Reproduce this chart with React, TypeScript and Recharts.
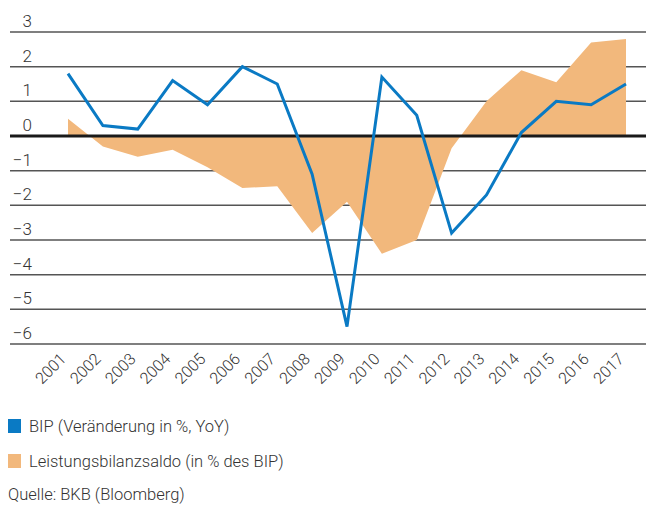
import React from 'react';
import { ComposedChart, Area, Line, XAxis, YAxis, CartesianGrid, ReferenceLine } from 'recharts';

if (typeof document !== 'undefined') {
  document.body.style.margin = '0';
}

const years = ['2001','2002','2003','2004','2005','2006','2007','2008','2009','2010','2011','2012','2013','2014','2015','2016','2017'];
const bip = [1.8, 0.3, 0.2, 1.6, 0.9, 2.0, 1.5, -1.1, -5.5, 1.7, 0.6, -2.8, -1.7, 0.1, 1.0, 0.9, 1.5];
const leistungsbilanz = [0.5, -0.3, -0.6, -0.4, -0.9, -1.5, -1.45, -2.8, -1.9, -3.4, -3.0, -0.35, 1.0, 1.9, 1.55, 2.7, 2.8];
const yTicks = [-6, -5, -4, -3, -2, -1, 0, 1, 2, 3];

const legendItems = [
  { label: 'BIP (Veränderung in %, YoY)', color: '#0a7ac4' },
  { label: 'Leistungsbilanzsaldo (in % des BIP)', color: '#f2b87c' },
];
const sourceText = 'Quelle: BKB (Bloomberg)';

const data = years.map((y, i) => ({ year: y, bip: bip[i], lb: leistungsbilanz[i] }));

const FONT = 'Roboto, "Liberation Sans", sans-serif';
const TEXT_COLOR = '#333';

const YTick = (props: any) => {
  const { y, payload } = props;
  const v = payload.value;
  const label = v < 0 ? '\u2212' + Math.abs(v) : String(v);
  return (
    <text x={32} y={y - 5} textAnchor="end" fontSize={17} fontFamily={FONT} fontWeight={300} fill={TEXT_COLOR}>
      {label}
    </text>
  );
};

const XTick = (props: any) => {
  const { x, y, payload } = props;
  const tx = x - 1;
  const ty = y + 8;
  return (
    <text x={tx} y={ty} textAnchor="end" transform={`rotate(-45, ${tx}, ${ty})`} fontSize={16} fontFamily={FONT} fontWeight={300} fill={TEXT_COLOR}>
      {payload.value}
    </text>
  );
};

export default function App() {
  return (
    <div style={{ position: 'relative', width: 646, height: 507, fontFamily: FONT }}>
      <ComposedChart width={646} height={507} data={data} margin={{ top: 32, right: 0, left: 9, bottom: 103 }}>
        <CartesianGrid horizontal={true} vertical={false} stroke="#555" strokeWidth={1.5} />
        <XAxis dataKey="year" interval={0} axisLine={false} tickLine={false} height={60} padding={{ left: 58, right: 20 }} tick={<XTick />} />
        <YAxis type="number" domain={[-6, 3]} ticks={yTicks} width={1} axisLine={false} tickLine={false} tick={<YTick />} interval={0} />
        <Area type="linear" dataKey="lb" stroke="none" fill="#f2b87c" fillOpacity={1} isAnimationActive={false} baseValue={0} />
        <ReferenceLine y={0} stroke="#1a1a1a" strokeWidth={3} />
        <Line type="linear" dataKey="bip" stroke="#0a7ac4" strokeWidth={3} dot={false} isAnimationActive={false} />
      </ComposedChart>
      <div style={{ position: 'absolute', left: 0, top: 414, width: 646, color: TEXT_COLOR, fontSize: 16.5, fontWeight: 300 }}>
        {legendItems.map((it, i) => (
          <div key={i} style={{ position: 'absolute', left: 8, top: i * 35, height: 24, display: 'flex', alignItems: 'center', whiteSpace: 'nowrap' }}>
            <span style={{ display: 'inline-block', width: 13, height: 14, background: it.color, marginRight: 8 }} />
            <span>{it.label}</span>
          </div>
        ))}
        <div style={{ position: 'absolute', left: 8, top: 68, height: 24, display: 'flex', alignItems: 'center', whiteSpace: 'nowrap' }}>
          {sourceText}
        </div>
      </div>
    </div>
  );
}
